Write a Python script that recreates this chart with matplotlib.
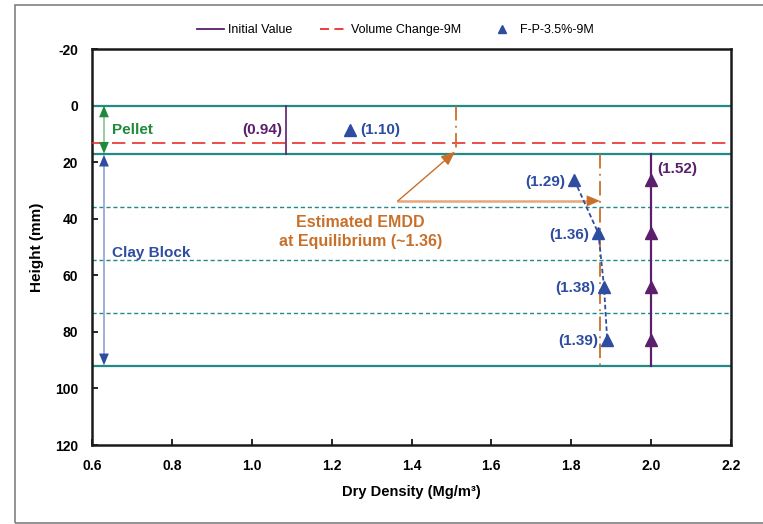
import matplotlib
matplotlib.use("Agg")
import matplotlib.pyplot as plt
from matplotlib.lines import Line2D
from matplotlib.patches import Rectangle

plt.rcParams.update({"font.family": ["Liberation Sans", "DejaVu Sans"], "font.size": 9,
                     "axes.unicode_minus": False})

# ── data ──────────────────────────────────────────────
pellet_top, pellet_bot = 0.0, 17.0
block_bot = 92.2
layer_bounds = [35.8, 54.6, 73.4]           # dashed layer lines in clay block
layer_mid = [26.4, 45.2, 64.0, 82.8]

init_pellet_x = 1.086
init_block_x = 2.0
init_block_lbl = "(1.52)"
init_pellet_lbl = "(0.94)"

vol_change_y = 13.2

fp_pellet = (1.246, 8.6)
fp_pellet_lbl = "(1.10)"
fp_block_x = [1.808, 1.868, 1.882, 1.890]
fp_block_lbl = ["(1.29)", "(1.36)", "(1.38)", "(1.39)"]

emdd_pellet_x = 1.511
emdd_block_x = 1.872

C_TEAL = "#1F8A87"
C_PURP = "#5B1F6B"
C_BLUE = "#2E4DA0"
C_LBLUE = "#8FA2D6"
C_ORNG = "#C8702A"
C_PEACH = "#E6A77F"
C_GRN = "#1E8A3A"
C_LGRN = "#86C497"
C_RED = "#E8302A"

HEAD = "-|>,head_length=0.6,head_width=0.25"

fig = plt.figure(figsize=(7.63, 5.24), dpi=100)
ax = fig.add_axes([92 / 763, 1 - 445 / 524, 639 / 763, 396 / 524])

# outer chart border
fig.patches.append(Rectangle((15 / 763, 1 / 524), 1.2, 518 / 524, transform=fig.transFigure,
                             fill=False, edgecolor="#808080", lw=1.2))

# layer boundaries
for yv in [pellet_top, pellet_bot, block_bot]:
    ax.axhline(yv, color=C_TEAL, lw=1.6, zorder=2)
for yv in layer_bounds:
    ax.axhline(yv, color=C_TEAL, lw=1.0, ls=(0, (3, 2)), zorder=2)

# volume change
ax.axhline(vol_change_y, color=C_RED, lw=1.2, ls=(0, (8, 4)), zorder=3)

# initial value
ax.plot([init_pellet_x, init_pellet_x], [pellet_top, pellet_bot], color=C_PURP, lw=1.2, zorder=4)
ax.plot([init_block_x, init_block_x], [pellet_bot, block_bot], color=C_PURP, lw=1.6, zorder=4)
ax.plot([init_block_x] * 4, layer_mid, ls="none", marker="^", ms=8, color=C_PURP, zorder=5)

# EMDD estimate (dash-dot)
ax.plot([emdd_pellet_x, emdd_pellet_x], [pellet_top, pellet_bot], color=C_ORNG, lw=1.3,
        ls=(0, (8, 3, 1, 3)), zorder=4)
ax.plot([emdd_block_x, emdd_block_x], [pellet_bot, block_bot], color=C_ORNG, lw=1.3,
        ls=(0, (8, 3, 1, 3)), zorder=4)

# F-P measured
ax.plot(fp_block_x, layer_mid, color=C_BLUE, lw=1.3, ls=(0, (2.5, 1.5)), zorder=5)
ax.plot(fp_block_x, layer_mid, ls="none", marker="^", ms=8, color=C_BLUE, zorder=6)
ax.plot([fp_pellet[0]], [fp_pellet[1]], ls="none", marker="^", ms=8, color=C_BLUE, zorder=6)

# labels
bold = dict(fontweight="bold", fontsize=11)
ax.text(init_pellet_x - 0.01, 8.6, init_pellet_lbl, color=C_PURP, ha="right", va="center", **bold)
ax.text(fp_pellet[0] + 0.025, 8.6, fp_pellet_lbl, color=C_BLUE, ha="left", va="center", **bold)
ax.text(init_block_x + 0.015, 22.4, init_block_lbl, color=C_PURP, ha="left", va="center", **bold)
for xv, yv, lbl in zip(fp_block_x, layer_mid, fp_block_lbl):
    ax.text(xv - 0.022, yv + 0.5, lbl, color=C_BLUE, ha="right", va="center", **bold)

# annotation arrows
ax.plot([1.366, 1.85], [33.7, 33.7], color=C_PEACH, lw=1.8, zorder=3)
ax.annotate("", xy=(1.872, 33.7), xytext=(1.80, 33.7),
            arrowprops=dict(arrowstyle=HEAD, color=C_ORNG, lw=0.01, mutation_scale=16,
                            shrinkA=0, shrinkB=0), zorder=4)
ax.annotate("", xy=(1.509, 16.3), xytext=(1.366, 33.7),
            arrowprops=dict(arrowstyle=HEAD, color=C_ORNG, lw=1.0, mutation_scale=14,
                            shrinkA=0, shrinkB=0), zorder=4)
ax.text(1.272, 44.8, "Estimated EMDD\nat Equilibrium (~1.36)", color=C_ORNG, ha="center",
        va="center", fontweight="bold", fontsize=11.5, linespacing=1.3)

# pellet / clay block brackets
def bracket(y0, y1, c_line, c_head):
    ax.plot([0.63, 0.63], [y0 + 2, y1 - 2], color=c_line, lw=1.2, zorder=3)
    for ya, yb in [(y0, y0 + 4), (y1, y1 - 4)]:
        ax.annotate("", xy=(0.63, ya), xytext=(0.63, yb),
                    arrowprops=dict(arrowstyle=HEAD, color=c_head, lw=0.01, mutation_scale=14,
                                    shrinkA=0, shrinkB=0), zorder=4)

bracket(pellet_top, pellet_bot, C_LGRN, C_GRN)
bracket(pellet_bot + 0.4, block_bot - 0.4, C_LBLUE, C_BLUE)
ax.text(0.65, 8.6, "Pellet", color=C_GRN, ha="left", va="center", **bold)
ax.text(0.65, 52.1, "Clay Block", color=C_BLUE, ha="left", va="center", **bold)

# axes
ax.set_xlim(0.6, 2.2)
ax.set_ylim(120, -20)
ax.set_xticks([0.6, 0.8, 1.0, 1.2, 1.4, 1.6, 1.8, 2.0, 2.2])
ax.set_yticks([-20, 0, 20, 40, 60, 80, 100, 120])
ax.xaxis.set_major_formatter(matplotlib.ticker.FormatStrFormatter("%.1f"))
ax.tick_params(direction="in", length=4, width=1.2, labelsize=10, pad=10)
for t in ax.get_xticklabels() + ax.get_yticklabels():
    t.set_fontweight("bold")
for s in ax.spines.values():
    s.set_linewidth(1.8)
    s.set_color("#1a1a1a")
ax.set_xlabel("Dry Density (Mg/m³)", fontweight="bold", fontsize=10.5, labelpad=9)
ax.set_ylabel("Height (mm)", fontweight="bold", fontsize=11, labelpad=8)

handles = [
    Line2D([], [], color=C_PURP, lw=1.3),
    Line2D([], [], color=C_RED, lw=1.3, ls=(0, (5, 3))),
    Line2D([], [], color=C_BLUE, ls="none", marker="^", ms=6),
]
fig.legend(handles, ["Initial Value", "Volume Change-9M", "F-P-3.5%-9M"],
           loc="center", bbox_to_anchor=(395 / 763, 1 - 30 / 524), ncol=3, frameon=False,
           fontsize=9, handlelength=2.2, columnspacing=2.2, handletextpad=0.3)

fig.savefig("out.png", dpi=100)
